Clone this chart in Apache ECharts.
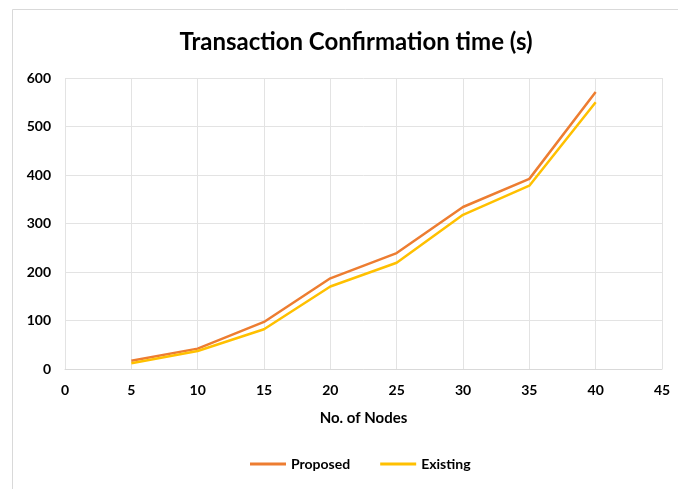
<!DOCTYPE html>
<html>
<head>
<meta charset="utf-8">
<script src="https://cdn.jsdelivr.net/npm/echarts@6/dist/echarts.min.js"></script>
<style>
  html, body { margin: 0; padding: 0; background: #fff; }
  #chart { width: 678px; height: 489px; }
</style>
</head>
<body>
<div id="chart"></div>
<script>
// data
var nodes = [5, 10, 15, 20, 25, 30, 35, 40];
var proposed = [17, 42, 97, 187, 239, 334, 392, 571];
var existing = [12, 37, 82, 170, 219, 318, 378, 550];

function pairs(xs, ys) {
  return xs.map(function (x, i) { return [x, ys[i]]; });
}

var font = 'Lato, "Open Sans", sans-serif';
var myChart = echarts.init(document.getElementById('chart'));
var option = {
  backgroundColor: '#fff',
  animation: false,
  // chart frame like the excel border
  graphic: [{
    type: 'rect',
    shape: { x: 12.5, y: 9.5, width: 700, height: 500 },
    style: { fill: 'none', stroke: '#d9d9d9', lineWidth: 1 },
    silent: true
  }],
  title: {
    text: 'Transaction Confirmation time (s)',
    left: 351,
    textAlign: 'center',
    top: 25,
    textStyle: { fontFamily: font, fontSize: 24, fontWeight: 'bold', color: '#000' }
  },
  legend: {
    bottom: 13,
    left: 245,
    itemWidth: 36,
    itemHeight: 3,
    itemGap: 30,
    icon: 'rect',
    textStyle: { fontFamily: font, fontSize: 14, fontWeight: 'bold', color: '#000' },
    data: ['Proposed', 'Existing']
  },
  grid: { left: 65, right: 16, top: 78, bottom: 120 },
  xAxis: {
    type: 'value',
    min: 0, max: 45, interval: 5,
    name: 'No. of Nodes',
    nameLocation: 'middle',
    nameGap: 42,
    nameTextStyle: { fontFamily: font, fontSize: 15, fontWeight: 'bold', color: '#000' },
    axisLine: { show: true, lineStyle: { color: '#d9d9d9' } },
    axisTick: { show: false },
    axisLabel: { fontFamily: font, fontSize: 14, fontWeight: 'bold', color: '#000', margin: 14 },
    splitLine: { show: true, lineStyle: { color: '#e3e3e3' } }
  },
  yAxis: {
    type: 'value',
    min: 0, max: 600, interval: 100,
    axisLine: { show: false },
    axisTick: { show: false },
    axisLabel: { fontFamily: font, fontSize: 14, fontWeight: 'bold', color: '#000', margin: 14 },
    splitLine: { show: true, lineStyle: { color: '#e3e3e3' } }
  },
  series: [
    {
      name: 'Proposed',
      type: 'line',
      data: pairs(nodes, proposed),
      showSymbol: false,
      lineStyle: { color: '#ED7D31', width: 2.5 },
      itemStyle: { color: '#ED7D31' }
    },
    {
      name: 'Existing',
      type: 'line',
      data: pairs(nodes, existing),
      showSymbol: false,
      lineStyle: { color: '#FFC000', width: 2.5 },
      itemStyle: { color: '#FFC000' }
    }
  ]
};
myChart.setOption(option);
</script>
</body>
</html>
